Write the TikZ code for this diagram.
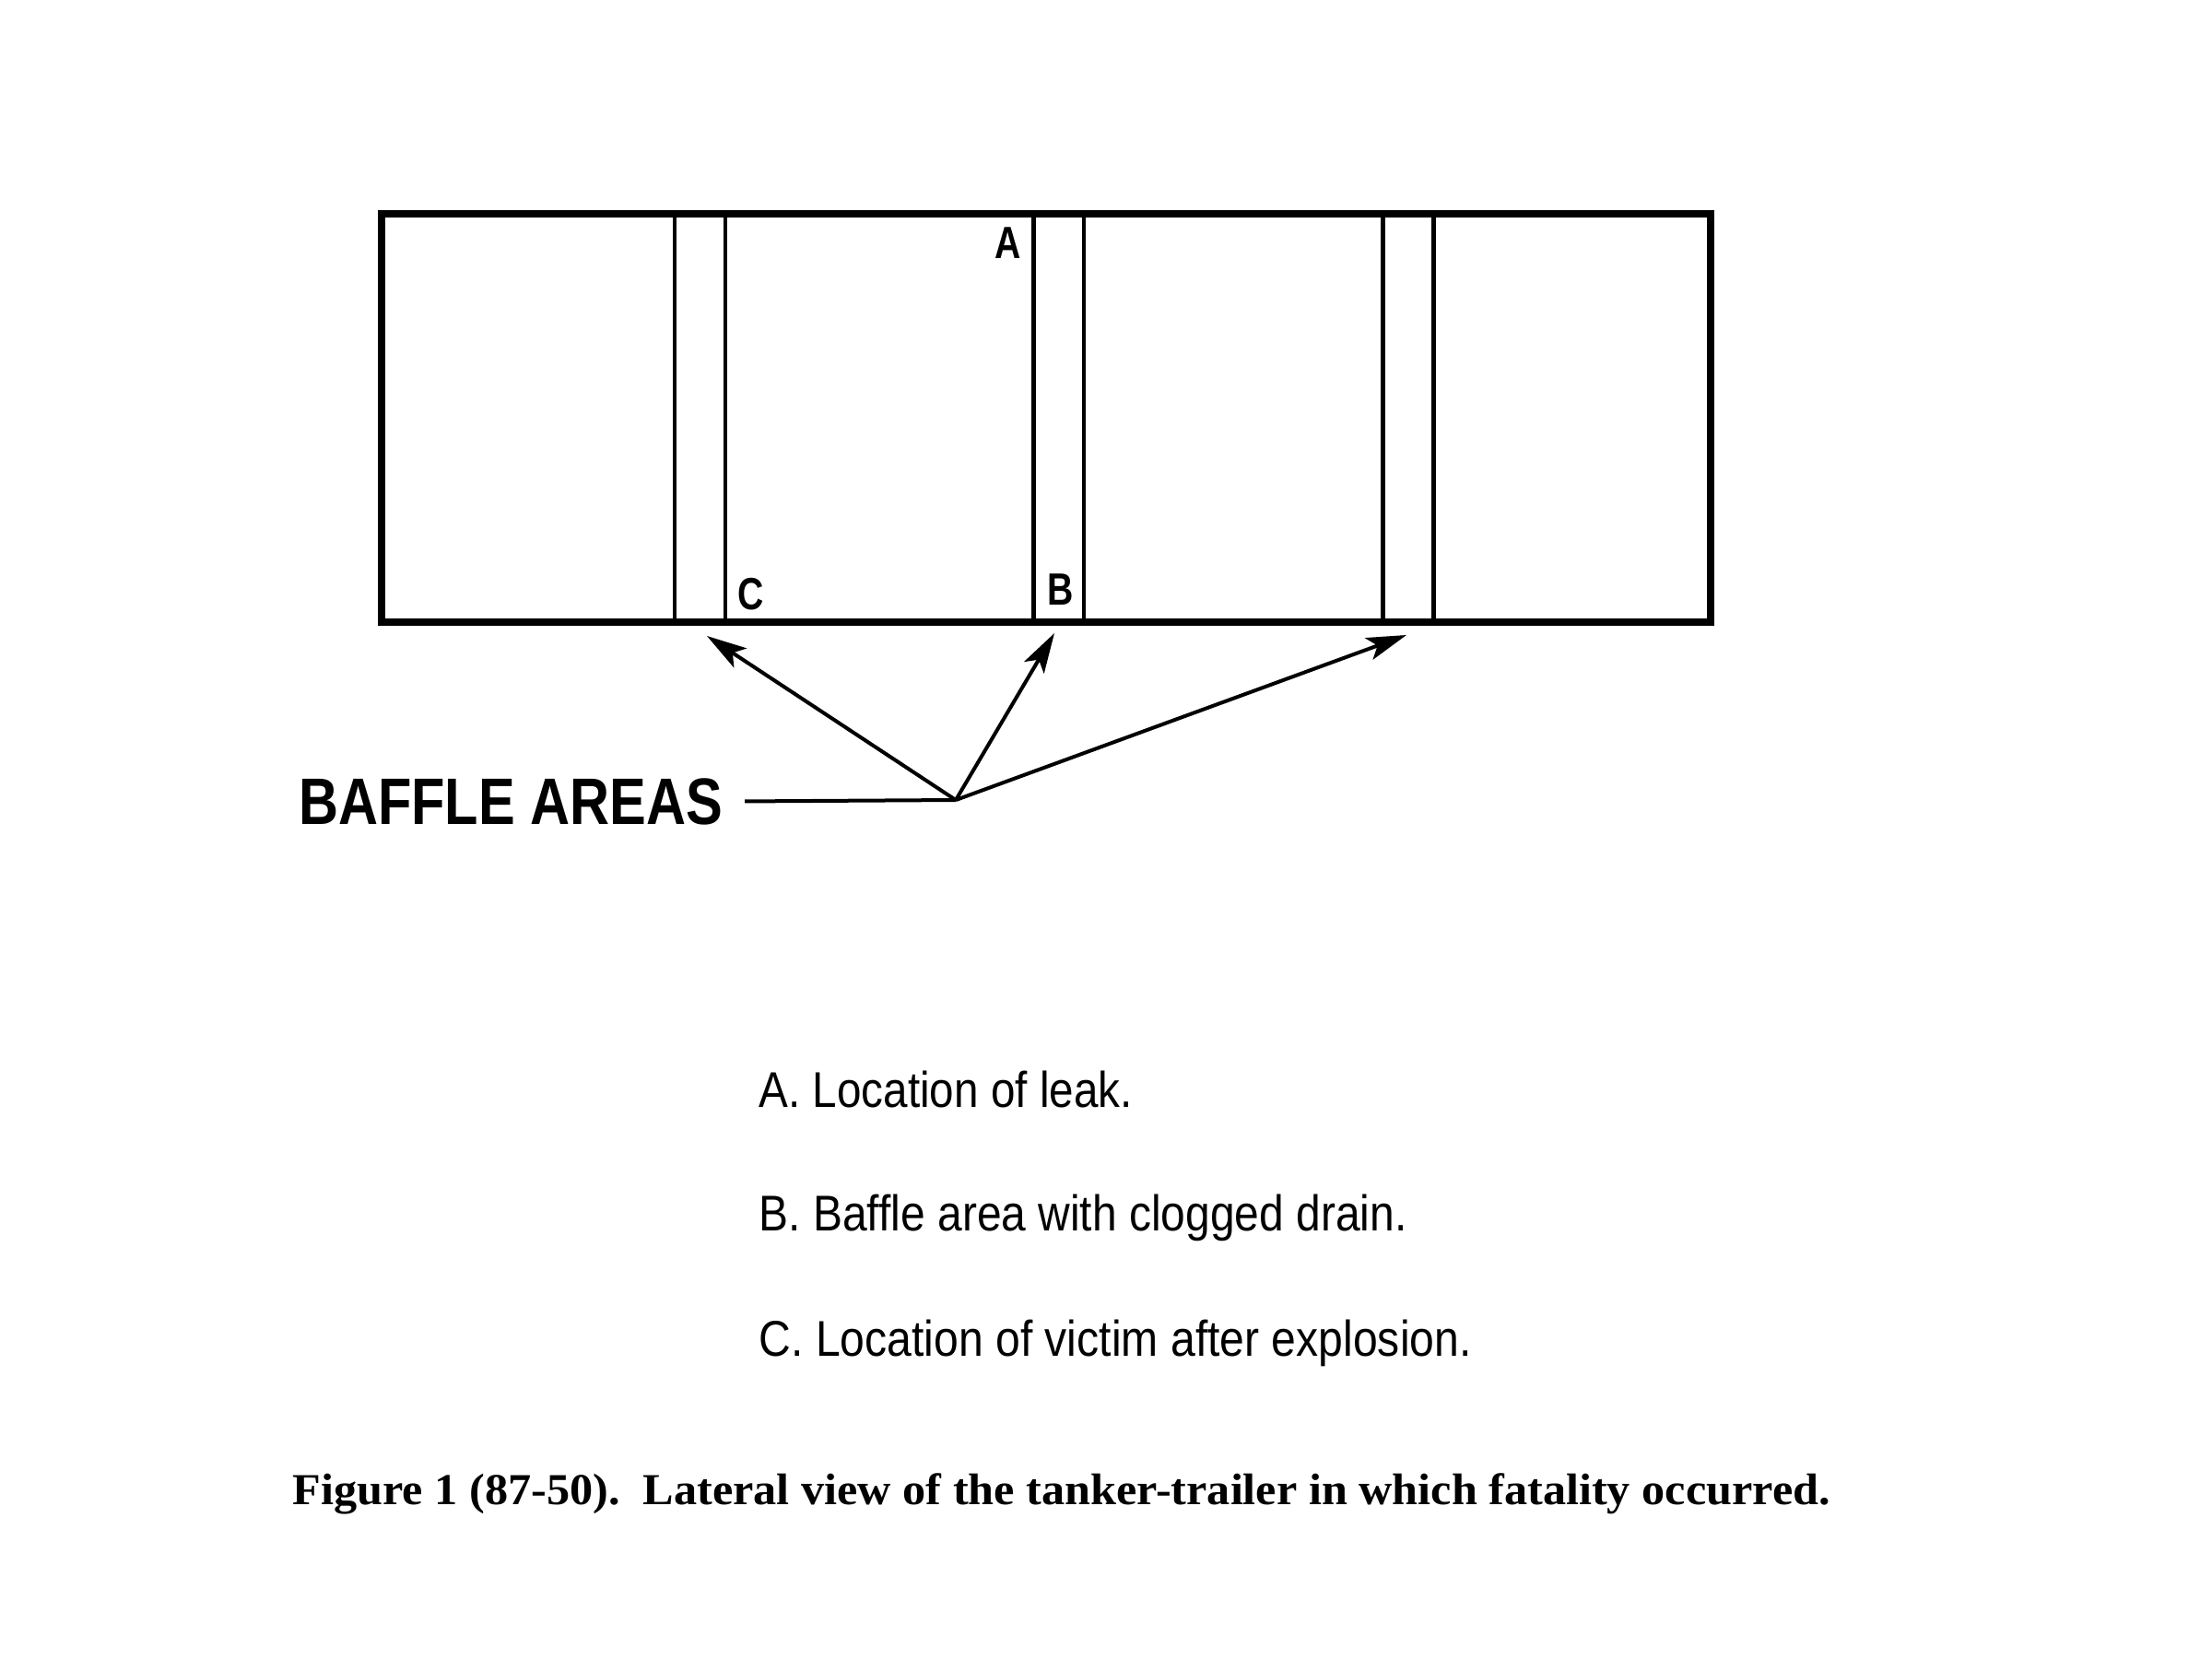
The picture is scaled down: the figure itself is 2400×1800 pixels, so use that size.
\documentclass[tikz,border=0pt]{standalone}
\usepackage{fontspec}
\usepackage{graphicx}
\setmainfont{Liberation Sans}
\newfontfamily\capfont{Liberation Serif}
\usetikzlibrary{arrows.meta}
\begin{document}
\begin{tikzpicture}[x=0.3pt,y=-0.3pt,
  outer/.style={line width=2.4pt},
  bafline/.style={line width=1.35pt},
  ptr/.style={line width=1.2pt,-{Stealth[length=13pt,width=7.5pt,inset=3pt]}},
  lbl/.style={inner sep=0pt,anchor=base,font=\fontsize{14.7pt}{16pt}\selectfont\bfseries},
  legend/.style={inner sep=0pt,anchor=base west,font=\fontsize{16.35pt}{18pt}\selectfont}]
\useasboundingbox (0,0) rectangle (2400,1800);
\fill[white] (0,0) rectangle (2400,1800);
% tank
\draw[outer] (414,232) rectangle (1856,675);
\foreach \x in {732,787,1121.5,1176,1500.5,1555.5}
  \draw[bafline] (\x,232) -- (\x,675);
% letters
\node[lbl] (la) at (1093.5,280) {\scalebox{0.8}[1]{A}};
\node[lbl] (lb) at (1150.5,656) {\scalebox{0.8}[1]{B}};
\node[lbl] (lc) at (814.5,661) {\scalebox{0.8}[1]{C}};
% baffle areas
\node[inner xsep=7pt,inner ysep=0pt,anchor=base west,font=\fontsize{21.4pt}{24pt}\selectfont\bfseries] (ba) at (300,894) {\resizebox{138pt}{\height}{BAFFLE AREAS}};
\coordinate (O) at (1037,868);
\coordinate (t1) at (767,690);
\coordinate (t2) at (1144,687);
\coordinate (t3) at (1526,689);
\draw[line width=1.2pt] (ba.east) -- (O);
\draw[ptr] (O) -- (t1);
\draw[ptr] (O) -- (t2);
\draw[ptr] (O) -- (t3);
% legend
\node[legend] (ka) at (823,1201) {\resizebox{121.5pt}{\height}{A. Location of leak.}};
\node[legend] (kb) at (823,1335) {\resizebox{210.9pt}{\height}{B. Baffle area with clogged drain.}};
\node[legend] (kc) at (823,1471) {\resizebox{231.9pt}{\height}{C. Location of victim after explosion.}};
% caption
\node[anchor=base west,inner sep=0pt,font=\capfont\bfseries\fontsize{14.4pt}{16pt}\selectfont] (cap) at (317,1632) {\resizebox{500.4pt}{\height}{Figure 1 (87-50).\ \ Lateral view of the tanker-trailer in which fatality occurred.}};
\end{tikzpicture}
\end{document}
